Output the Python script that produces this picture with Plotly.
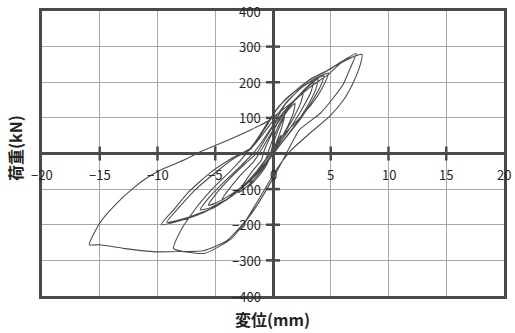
import plotly.graph_objects as go

# Load-displacement record, one cycle per pair of lists (mm, kN)
c01_disp = [0.0, 0.2, 0.5, 0.7, 0.6, 0.3, 0.0, -0.4, -0.8, -1.0, -0.8, -0.5, -0.2]
c01_load = [0, 20, 40, 52, 38, 18, 0, -20, -38, -48, -36, -20, -6]

c02_disp = [-0.2, 0.1, 0.5, 0.9, 1.0, 0.8, 0.4, -0.1, -0.7, -1.4, -2.0, -1.8, -1.2, -0.6]
c02_load = [0, 35, 70, 98, 105, 78, 40, 0, -40, -70, -88, -70, -40, -15]

c03_disp = [-0.4, 0.1, 0.7, 1.3, 1.9, 1.8, 1.3, 0.6, -0.1, -1.0, -2.0, -2.7, -3.0, -2.6, -1.8, -1.0]
c03_load = [5, 50, 92, 122, 141, 118, 78, 36, -5, -48, -85, -104, -110, -88, -50, -18]

c04_disp = [-0.8, 0.0, 0.8, 1.6, 2.2, 2.6, 2.4, 1.8, 1.0, 0.1, -1.0, -2.2, -3.4, -4.4, -3.9, -2.9, -1.7]
c04_load = [5, 62, 105, 138, 158, 168, 142, 102, 58, 14, -34, -78, -112, -128, -104, -64, -24]

c05_disp = [-1.2, -0.2, 0.7, 1.7, 2.6, 3.5, 3.3, 2.6, 1.7, 0.6, -0.6, -2.0, -3.6, -4.9, -5.6, -5.0, -3.8, -2.4]
c05_load = [0, 55, 102, 142, 176, 201, 174, 130, 82, 30, -24, -74, -114, -138, -145, -116, -72, -28]

c06_disp = [-1.4, -0.2, 0.9, 2.0, 3.0, 3.9, 3.7, 3.0, 2.0, 0.8, -0.5, -2.0, -3.8, -5.4, -6.3, -5.6, -4.3, -2.7]
c06_load = [2, 66, 116, 155, 186, 210, 180, 134, 84, 32, -24, -78, -124, -152, -158, -126, -82, -32]

c07_disp = [-1.6, 0.0, 1.0, 2.2, 3.4, 4.8, 4.4, 3.8, 2.7, 1.2, 0.0, -1.2, -2.5, -3.9, -5.9, -8.0, -9.7,
            -8.6, -7.3, -5.4, -3.6]
c07_load = [5, 80, 135, 178, 206, 226, 192, 159, 113, 62, 12, -45, -91, -128, -164, -188, -200,
            -158, -108, -53, -14]

c08_disp = [-1.8, 0.0, 1.2, 2.6, 4.4, 4.1, 3.4, 2.4, 1.1, -0.2, -1.5, -3.0, -5.0, -7.4, -9.2,
            -8.1, -6.8, -5.0, -3.4]
c08_load = [18, 92, 145, 188, 218, 188, 148, 98, 44, -8, -60, -106, -150, -180, -193,
            -150, -104, -54, -14]

c09_disp = [-2.0, -0.6, 0.4, 1.8, 3.2, 4.7, 6.1, 7.2, 6.6, 6.1, 5.2, 4.1, 2.3, 1.0, -0.2, -1.6,
            -3.6, -5.9, -8.6, -7.9, -6.5, -5.0, -3.4]
c09_load = [10, 75, 128, 172, 208, 233, 261, 281, 233, 196, 155, 113, 67, -10, -81, -156,
            -239, -280, -267, -211, -146, -91, -40]

c10_disp = [-1.6, -0.2, 1.0, 1.8, 3.2, 4.7, 6.1, 7.7, 7.5, 6.9, 6.1, 4.9, 3.2, 1.6, 0.4, -0.9,
            -2.4, -4.0, -6.0, -8.0, -10.2, -12.8, -15.0, -15.9, -15.0, -13.6, -12.2, -11.0, -9.6,
            -7.6, -6.2, -4.8, -1.9, -0.5, 1.5, 3.2, 4.9, 5.8, 7.0]
c10_load = [30, 100, 150, 172, 207, 232, 260, 278, 243, 196, 150, 104, 57, 10, -40, -110,
            -190, -245, -273, -275, -276, -267, -256, -256, -195, -142, -100, -70, -44,
            -17, 6, 25, 67, 90, 140, 186, 225, 252, 272]

cycles = [
    (c01_disp, c01_load), (c02_disp, c02_load), (c03_disp, c03_load),
    (c04_disp, c04_load), (c05_disp, c05_load), (c06_disp, c06_load),
    (c07_disp, c07_load), (c08_disp, c08_load), (c09_disp, c09_load),
    (c10_disp, c10_load),
]

# Axis ticks and their labels
x_ticks = [-20, -15, -10, -5, 0, 5, 10, 15, 20]
y_ticks = [400, 300, 200, 100, -100, -200, -300, -400]
x_title = "変位(mm)"
y_title = "荷重(kN)"

FONT = "Noto Sans CJK JP"
AXIS_COLOR = "#4a4a4a"
CURVE_COLOR = "#4c4c4c"

disp_all, load_all = [], []
for d, p in cycles:
    disp_all += d
    load_all += p

fig = go.Figure()

fig.add_trace(go.Scatter(
    x=disp_all, y=load_all, mode="lines",
    line=dict(color=CURVE_COLOR, width=1.1, shape="spline", smoothing=0.5),
    hoverinfo="skip", showlegend=False,
))

# Short tick marks crossing the zero axes
inner_x = [t for t in x_ticks if t not in (0, -20, 20)]
inner_y = [t for t in y_ticks if abs(t) != 400]
fig.add_trace(go.Scatter(
    x=inner_x, y=[0] * len(inner_x), mode="markers",
    marker=dict(symbol="line-ns", size=10, line=dict(width=2.5, color=AXIS_COLOR)),
    hoverinfo="skip", showlegend=False, cliponaxis=False,
))
fig.add_trace(go.Scatter(
    x=[0] * len(inner_y), y=inner_y, mode="markers",
    marker=dict(symbol="line-ew", size=10, line=dict(width=2.5, color=AXIS_COLOR)),
    hoverinfo="skip", showlegend=False, cliponaxis=False,
))

annotations = []
for t in x_ticks:
    label = str(t).replace("-", "−")
    annotations.append(dict(
        x=t, y=0, xref="x", yref="y", text=label, showarrow=False,
        xanchor="center", yanchor="middle", yshift=-21,
        font=dict(family=FONT, size=13, color="#262626"),
    ))
for t in y_ticks:
    label = str(t).replace("-", "−")
    annotations.append(dict(
        x=0, y=t, xref="x", yref="y", text=label, showarrow=False,
        xanchor="right", yanchor="middle", xshift=-10,
        font=dict(family=FONT, size=13, color="#262626"),
    ))
annotations.append(dict(
    x=0.499, y=-0.08, xref="paper", yref="paper", text="<b>" + x_title + "</b>",
    showarrow=False, xanchor="center", yanchor="middle",
    font=dict(family=FONT, size=16, color="#222"),
))
annotations.append(dict(
    x=-0.058, y=0.52, xref="paper", yref="paper", text="<b>" + y_title + "</b>",
    showarrow=False, xanchor="center", yanchor="middle", textangle=-90,
    font=dict(family=FONT, size=16, color="#222"),
))

fig.update_layout(
    width=515, height=333,
    margin=dict(l=42, r=8, t=9, b=37),
    paper_bgcolor="white", plot_bgcolor="white",
    annotations=annotations,
    font=dict(family=FONT),
)
fig.update_xaxes(
    range=[-20, 20], dtick=5, tick0=0, showticklabels=False, ticks="",
    showgrid=True, gridcolor="#a8a8a8", gridwidth=1,
    zeroline=True, zerolinecolor=AXIS_COLOR, zerolinewidth=2.5,
    showline=True, mirror=True, linecolor=AXIS_COLOR, linewidth=2.5,
)
fig.update_yaxes(
    range=[-400, 400], dtick=100, tick0=0, showticklabels=False, ticks="",
    showgrid=True, gridcolor="#a8a8a8", gridwidth=1,
    zeroline=True, zerolinecolor=AXIS_COLOR, zerolinewidth=2.5,
    showline=True, mirror=True, linecolor=AXIS_COLOR, linewidth=2.5,
)

fig.write_html("out.html")
